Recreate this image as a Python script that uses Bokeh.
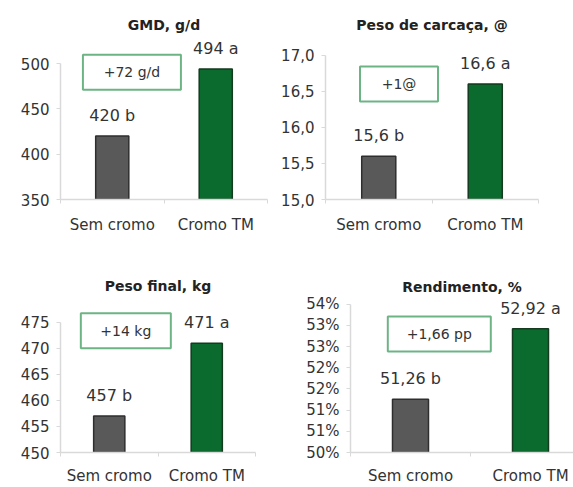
from bokeh.plotting import figure
from bokeh.layouts import column, row
from bokeh.models import FixedTicker, Range1d
from bokeh.core.properties import value
from bokeh.embed import file_html
from bokeh.resources import INLINE

# ---- data ----
categories = ["Sem cromo", "Cromo TM"]

gmd_values = [420, 494]
gmd_labels = ["420 b", "494 a"]
gmd_ticks = [350, 400, 450, 500]
gmd_diff = "+72 g/d"

carcaca_values = [15.6, 16.6]
carcaca_labels = ["15,6 b", "16,6 a"]
carcaca_ticks = [15.0, 15.5, 16.0, 16.5, 17.0]
carcaca_tick_labels = ["15,0", "15,5", "16,0", "16,5", "17,0"]
carcaca_diff = "+1@"

peso_final_values = [457, 471]
peso_final_labels = ["457 b", "471 a"]
peso_final_ticks = [450, 455, 460, 465, 470, 475]
peso_final_diff = "+14 kg"

rendimento_values = [51.26, 52.92]
rendimento_labels = ["51,26 b", "52,92 a"]
rendimento_ticks = [50.0, 50.5, 51.0, 51.5, 52.0, 52.5, 53.0, 53.5]
rendimento_tick_labels = ["50%", "51%", "51%", "52%", "52%", "53%", "53%", "54%"]
rendimento_diff = "+1,66 pp"

titles = ["GMD, g/d", "Peso de carcaça, @", "Peso final, kg", "Rendimento, %"]

FONT = "DejaVu Sans"
AXIS_COLOR = "#D9D9D9"
TEXT_COLOR = "#333333"
BAR_FILLS = ["#595959", "#0B6A2D"]
BAR_LINES = ["#2E2E2E", "#143A1F"]
BOX_COLOR = "#6DB485"


def panel(title, vals, labels, ticks, tick_labels, diff, *, width, height,
          y_range, x_end, b_left, b_right, b_top, b_bottom, box_xy, box_wh,
          label_standoff, title_standoff, bar_width=0.32):
    p = figure(width=width, height=height, output_backend="svg",
               toolbar_location=None, tools="",
               x_range=Range1d(0, x_end), y_range=Range1d(*y_range),
               min_border_left=b_left, min_border_right=b_right,
               min_border_top=b_top, min_border_bottom=b_bottom)
    p.outline_line_color = None
    p.grid.visible = False
    p.background_fill_color = "white"
    p.border_fill_color = "white"

    p.title.text = title
    p.title.align = "center"
    p.title.text_font = FONT
    p.title.text_font_style = "bold"
    p.title.text_font_size = "14px"
    p.title.text_color = "#222222"
    p.title.standoff = title_standoff

    xs = [i + 0.5 for i in range(len(categories))]
    # x axis
    xa = p.xaxis[0]
    xa.ticker = FixedTicker(ticks=xs, minor_ticks=[0, 1, 2])
    xa.major_label_overrides = {x: c for x, c in zip(xs, categories)}
    xa.major_tick_out = 0
    xa.major_tick_in = 0
    xa.minor_tick_out = 4
    xa.minor_tick_in = 0
    xa.minor_tick_line_color = AXIS_COLOR
    xa.axis_line_color = AXIS_COLOR
    xa.axis_line_width = 1.5
    xa.major_label_text_font = FONT
    xa.major_label_text_font_size = "15px"
    xa.major_label_text_color = TEXT_COLOR
    xa.major_label_standoff = label_standoff

    # y axis
    ya = p.yaxis[0]
    ya.ticker = FixedTicker(ticks=ticks, minor_ticks=[])
    if tick_labels is not None:
        ya.major_label_overrides = {t: l for t, l in zip(ticks, tick_labels)}
    ya.bounds = (ticks[0], ticks[-1])
    ya.axis_line_color = AXIS_COLOR
    ya.axis_line_width = 1.5
    ya.major_tick_line_color = AXIS_COLOR
    ya.major_tick_out = 4
    ya.major_tick_in = 0
    ya.minor_tick_line_color = None
    ya.major_label_text_font = FONT
    ya.major_label_text_font_size = "15px"
    ya.major_label_text_color = TEXT_COLOR
    ya.major_label_standoff = 7

    p.vbar(x=xs, top=vals, bottom=y_range[0], width=bar_width,
           fill_color=BAR_FILLS, line_color=BAR_LINES, line_width=1.5)
    p.text(x=xs, y=vals, text=labels, text_align="center", text_baseline="bottom",
           y_offset=-11, text_font=value(FONT), text_font_size="16px",
           text_color=TEXT_COLOR)

    bx, by = box_xy
    bw, bh = box_wh
    p.rect(x=[bx], y=[by], width=bw, height=bh, width_units="screen",
           height_units="screen", fill_color=None, line_color=BOX_COLOR,
           line_width=2)
    p.text(x=[bx], y=[by], text=[diff], text_align="center", text_baseline="middle",
           text_font=value(FONT), text_font_size="14px", text_color=TEXT_COLOR)
    return p


pA = panel(titles[0], gmd_values, gmd_labels, gmd_ticks, None, gmd_diff,
           width=278, height=240, y_range=(350, 530), x_end=2,
           b_left=60, b_right=11, b_top=36, b_bottom=41,
           box_xy=(0.69, 490.5), box_wh=(98, 35), label_standoff=12,
           title_standoff=7)
pB = panel(titles[1], carcaca_values, carcaca_labels, carcaca_ticks,
           carcaca_tick_labels, carcaca_diff,
           width=295, height=240, y_range=(15.0, 17.26), x_end=2,
           b_left=45, b_right=35, b_top=36, b_bottom=39,
           box_xy=(0.69, 16.6), box_wh=(78, 35), label_standoff=12,
           title_standoff=7)
pC = panel(titles[2], peso_final_values, peso_final_labels, peso_final_ticks,
           None, peso_final_diff,
           width=278, height=247, y_range=(450, 479.2), x_end=2,
           b_left=60, b_right=23, b_top=60, b_bottom=28,
           box_xy=(0.67, 473.4), box_wh=(90, 35), label_standoff=10,
           title_standoff=13)
pD = panel(titles[3], rendimento_values, rendimento_labels, rendimento_ticks,
           rendimento_tick_labels, rendimento_diff,
           width=295, height=247, y_range=(50.0, 53.59), x_end=223 / 120,
           b_left=72, b_right=0, b_top=57, b_bottom=29,
           box_xy=(0.74, 52.8), box_wh=(103, 35), label_standoff=10,
           title_standoff=12, bar_width=0.3)

layout = column(row(pA, pB), row(pC, pD))

open("out.html", "w").write(file_html(layout, INLINE))
